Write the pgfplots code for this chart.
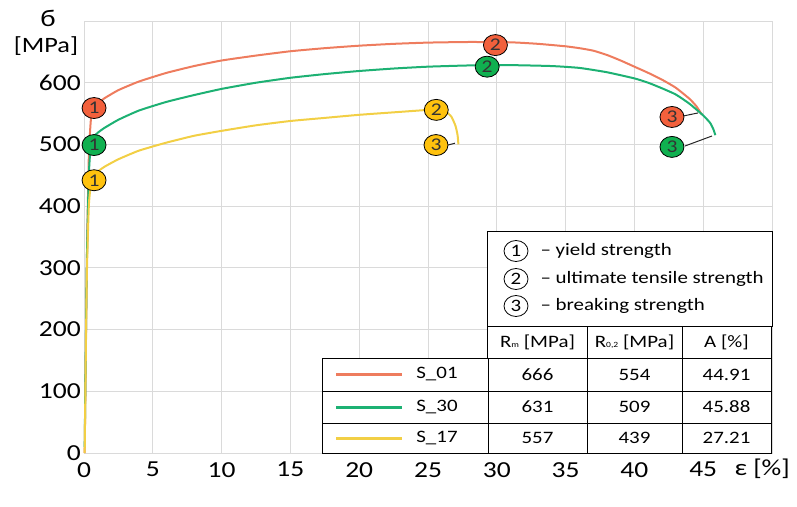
\documentclass[border=0pt]{standalone}
\usepackage{fontspec}
\setmainfont[FakeStretch=1.2]{Carlito}
\usepackage{pgfplots}
\pgfplotsset{compat=1.18}
\usetikzlibrary{shapes.geometric}
\definecolor{cor}{HTML}{EE7C5E}
\definecolor{cgr}{HTML}{1DB173}
\definecolor{cye}{HTML}{F2CF45}
\definecolor{mor}{HTML}{F2603C}
\definecolor{mgr}{HTML}{10B050}
\definecolor{mye}{HTML}{FFC20E}
\definecolor{gridc}{HTML}{DADADA}
\pgfplotsset{
  mk/.style={draw=none, mark=none, point meta=explicit symbolic, nodes near coords,
    every node near coord/.style={ellipse, draw=black, line width=0.8bp, fill=#1,
      minimum width=24bp, minimum height=21bp, inner sep=0pt, anchor=center,
      text=black!80, font=\fontsize{18}{18}\selectfont}}
}
\newcommand{\sub}[1]{\raisebox{-0.5pt}{\fontsize{8}{8}\selectfont #1}}
\begin{document}
\begin{tikzpicture}
\begin{axis}[at={(84bp,-453bp)}, anchor=south west, scale only axis,
  width=688bp, height=432bp, xmin=0, xmax=50, ymin=0, ymax=700,
  xtick={0,5,...,45}, ytick={0,100,...,600},
  grid=major, major grid style={draw=gridc, line width=0.8bp},
  axis line style={draw=gridc, line width=0.8bp}, major tick length=0pt,
  /pgf/number format/assume math mode=true,
  tick label style={font=\fontsize{23}{23}\selectfont},
  xticklabel style={anchor=north, inner sep=0pt, yshift=-9bp},
  yticklabel style={anchor=east, inner sep=0pt, xshift=-3bp},
  clip=false]
% S_01
\addplot[cor, line width=2bp, smooth, tension=0.3] coordinates {
(0.05,0) (0.2,300) (0.35,480) (0.5,540) (0.7,557) (1.0,566) (1.5,575) (2.5,588)
(4,602) (6,616) (8,627) (10,636) (12.5,644) (15,651) (17.5,656) (20,660)
(22.5,663) (25,665) (28,666) (31,665.5) (33,663) (35,659) (36,656) (37,652)
(38,645) (39,636) (40,626) (41,616) (42,605) (43,592) (44,574) (44.5,562) (44.91,548)};
% S_30
\addplot[cgr, line width=2bp, smooth, tension=0.3] coordinates {
(0.05,10) (0.2,300) (0.35,450) (0.5,500) (0.7,512) (1.0,519) (1.5,527) (2.5,540)
(4,555) (6,569) (8,580) (10,590) (12.5,600) (15,608) (17.5,614) (20,619)
(22.5,623) (25,626) (28,628) (31,628.5) (34,627) (36,624) (38,617) (40,607)
(41,600) (42,591) (43,581) (44,566) (45,547) (45.5,535) (45.75,524) (45.88,515)};
% S_17
\addplot[cye, line width=2bp, smooth, tension=0.3] coordinates {
(0.05,0) (0.2,280) (0.35,400) (0.5,435) (0.7,448) (1.0,456) (1.5,464) (2.5,476)
(4,490) (6,503) (8,514) (10,522) (12.5,531) (15,538) (17.5,543) (20,548)
(22.5,552) (25,556) (25.8,557) (26.3,553) (26.7,545) (27.0,530) (27.15,515) (27.21,500)};
% leader lines
\addplot[black!85, line width=1bp] coordinates {(26.45,499) (26.96,502)};
\addplot[black!85, line width=1bp] coordinates {(43.53,546) (44.62,551)};
\addplot[black!85, line width=1bp] coordinates {(43.68,497.5) (45.64,513.7)};
% markers
\addplot[mk=mor] coordinates {(0.73,559)[1] (29.9,661)[2] (42.73,544.5)[3]};
\addplot[mk=mgr] coordinates {(0.73,499)[1] (29.3,626)[2] (42.73,496)[3]};
\addplot[mk=mye] coordinates {(0.73,442)[1] (25.6,556)[2] (25.58,499)[3]};
\end{axis}
\begin{scope}[x=1bp, y=-1bp, line width=1bp]
\path (0,0) rectangle (797,507);
% axis labels
\node[font=\fontsize{24}{24}\selectfont] at (48,18) {б};
\node[font=\fontsize{22}{22}\selectfont] at (46,46) {[MPa]};
\node[font=\fontsize{23}{23}\selectfont, anchor=west, inner sep=0pt] at (734,469) {ε [\%]};
% legend box
\draw[fill=white] (487,232) rectangle (772,326);
\begin{scope}[font=\fontsize{17.5}{17.5}\selectfont]
\foreach \y/\n/\t in {251/1/yield strength, 279/2/ultimate tensile strength, 306/3/breaking strength}{
  \draw[line width=0.8bp] (516,\y) ellipse (12 and 10.5);
  \node at (516,\y) {\n};
  \node[anchor=west, inner sep=0pt] at (540,\y) {– \t};
}
% header row
\draw[fill=white] (487,326) rectangle (771,358);
\draw (587,326) -- (587,358) (682,326) -- (682,358);
\node at (537.5,342) {R\sub{m} [MPa]};
\node at (634.5,342) {R\sub{0,2} [MPa]};
\node at (726.5,342) {A [\%]};
% data rows
\draw[fill=white] (322,358) rectangle (771,453);
\draw (322,391) -- (771,391) (322,423) -- (771,423);
\draw (488,358) -- (488,453) (587,358) -- (587,453) (682,358) -- (682,453);
\draw[cor, line width=3bp] (336,374.5) -- (402,374.5);
\draw[cgr, line width=3bp] (336,407) -- (402,407);
\draw[cye, line width=3bp] (336,438) -- (402,438);
\node at (437,374.5) {S\_01};
\node at (437,407) {S\_30};
\node at (437,438) {S\_17};
\node at (537.5,374.5) {666}; \node at (634.5,374.5) {554}; \node at (726.5,374.5) {44.91};
\node at (537.5,407) {631}; \node at (634.5,407) {509}; \node at (726.5,407) {45.88};
\node at (537.5,438) {557}; \node at (634.5,438) {439}; \node at (726.5,438) {27.21};
\end{scope}
\end{scope}
\end{tikzpicture}
\end{document}
